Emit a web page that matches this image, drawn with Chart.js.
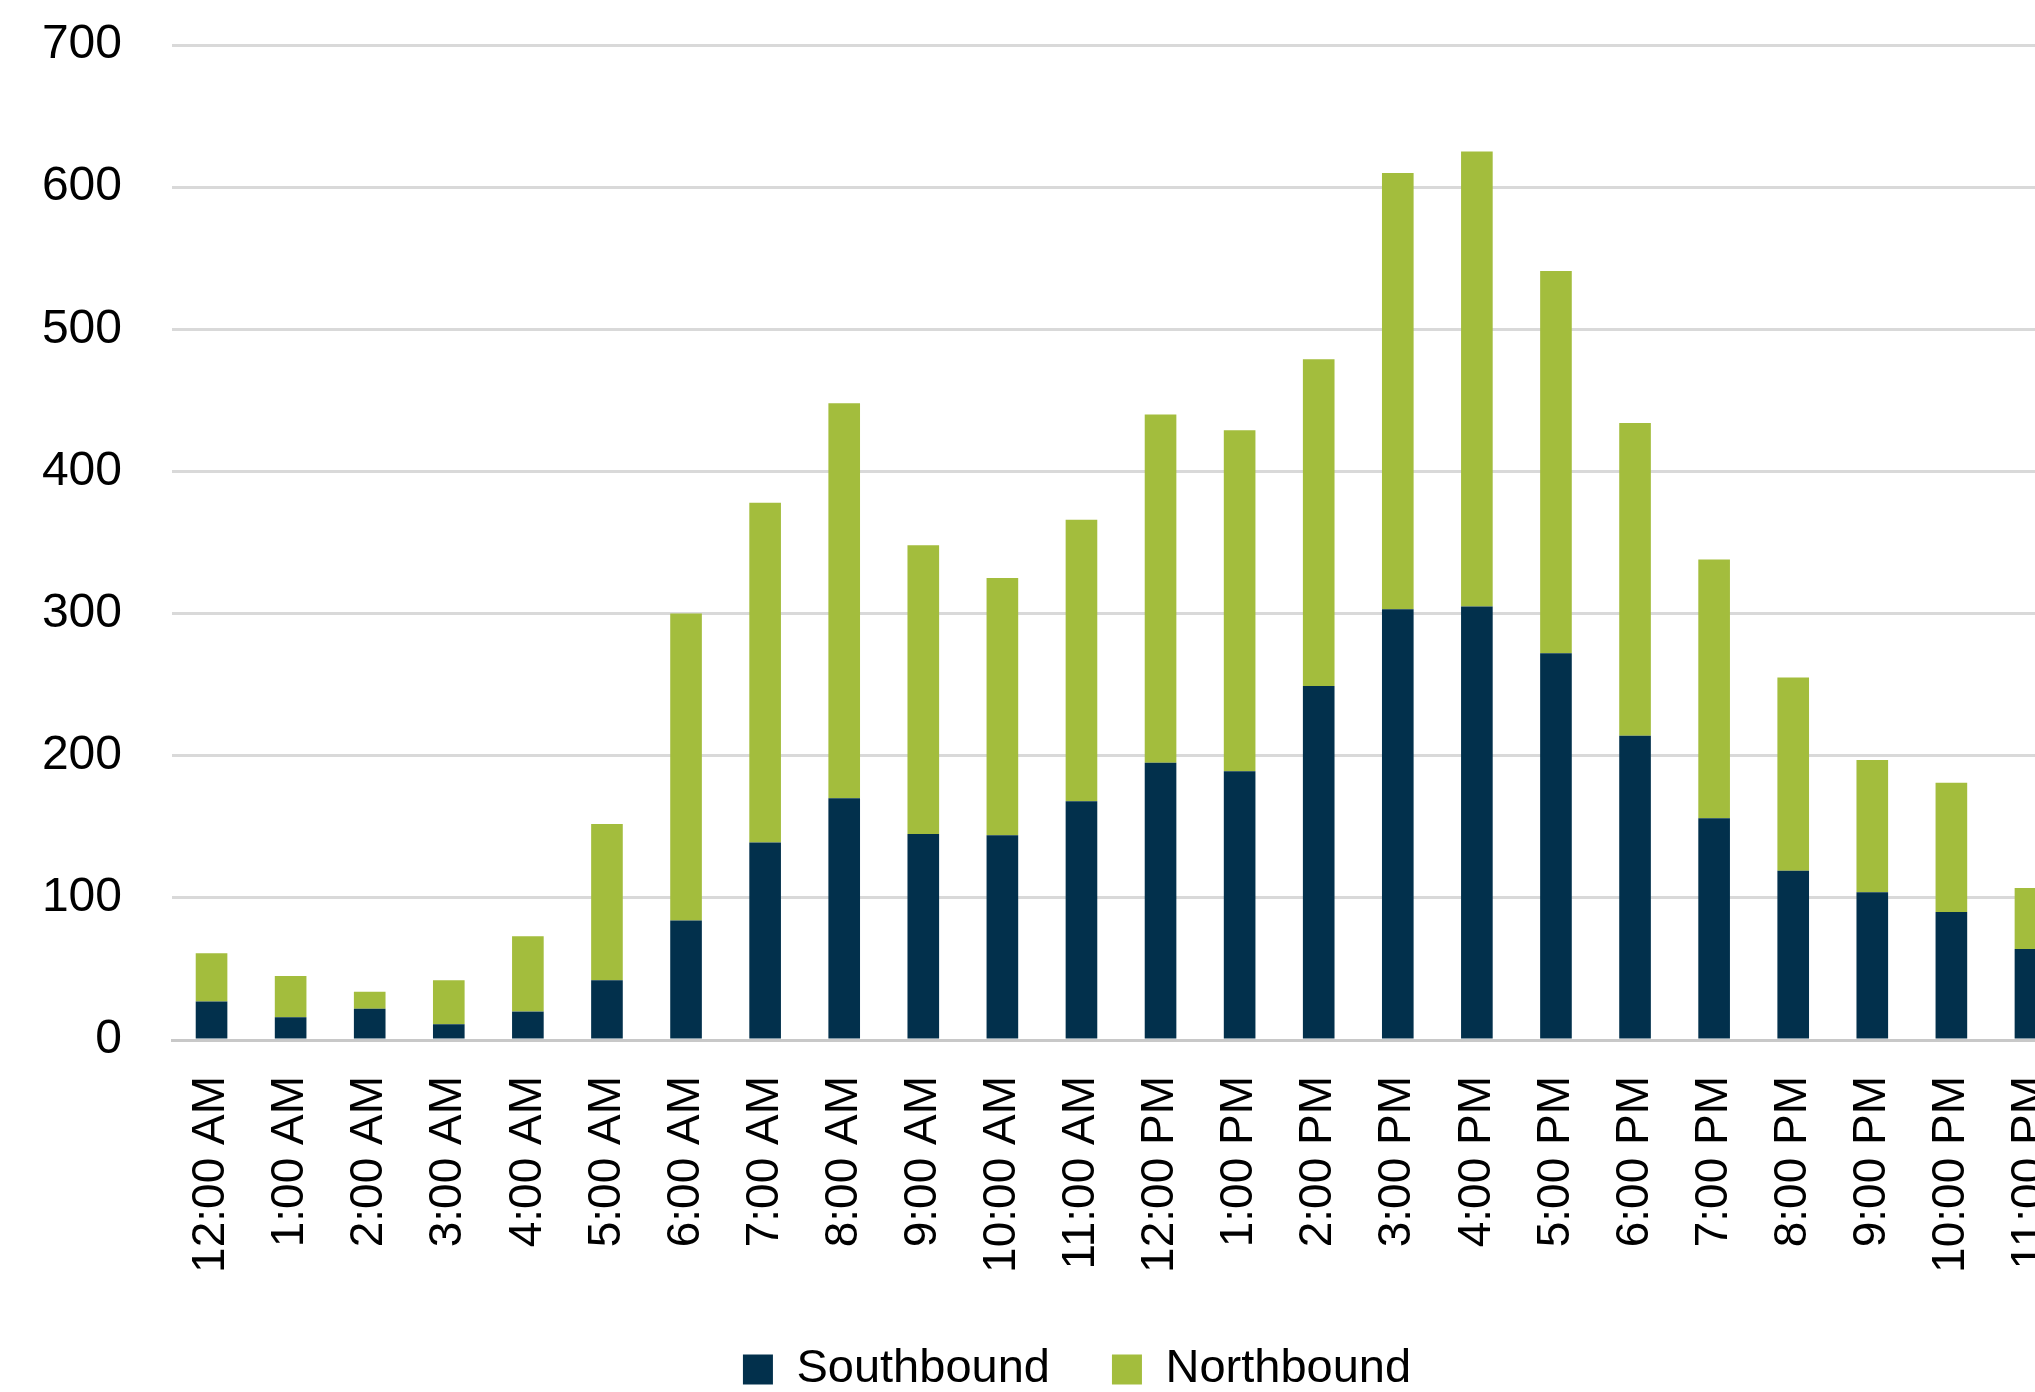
<!DOCTYPE html>
<html>
<head>
<meta charset="utf-8">
<script src="https://cdn.jsdelivr.net/npm/chart.js@4.4.1/dist/chart.umd.min.js"></script>
<style>
  html, body { margin: 0; padding: 0; background: #fff; overflow: hidden; }
  #wrap { width: 2100px; height: 1392px; }
</style>
</head>
<body>
<div id="wrap"><canvas id="trafficChart" width="2100" height="1392"></canvas></div>
<script>
// hourly counts by direction
const hours = [
  '12:00 AM', '1:00 AM', '2:00 AM', '3:00 AM', '4:00 AM', '5:00 AM',
  '6:00 AM', '7:00 AM', '8:00 AM', '9:00 AM', '10:00 AM', '11:00 AM',
  '12:00 PM', '1:00 PM', '2:00 PM', '3:00 PM', '4:00 PM', '5:00 PM',
  '6:00 PM', '7:00 PM', '8:00 PM', '9:00 PM', '10:00 PM', '11:00 PM'
];
const southbound = [27, 16, 22, 11, 20, 42, 84, 139, 170, 145, 144, 168,
                    195, 189, 249, 303, 305, 272, 214, 156, 119, 104, 90, 64];
const northbound = [34, 29, 12, 31, 53, 110, 216, 239, 278, 203, 181, 198,
                    245, 240, 230, 307, 320, 269, 220, 182, 136, 93, 91, 43];
const yMax = 700;
const yStep = 100;

const FONT = '"Liberation Sans", Arial, sans-serif';
const AXIS_Y = 1040;        // pixel row of the zero line
const LEGEND_SHIFT = { x: 42, y: 11 };

// nudges the legend so it sits centred under the wider frame
const legendShift = {
  id: 'legendShift',
  afterLayout(chart) {
    const lg = chart.legend;
    if (!lg) return;
    lg.left += LEGEND_SHIFT.x;
    lg.right += LEGEND_SHIFT.x;
    lg.top += LEGEND_SHIFT.y;
    lg.bottom += LEGEND_SHIFT.y;
  }
};

const ctx = document.getElementById('trafficChart').getContext('2d');
new Chart(ctx, {
  type: 'bar',
  data: {
    labels: hours,
    datasets: [
      {
        label: 'Southbound',
        data: southbound,
        backgroundColor: '#02304C'
      },
      {
        label: 'Northbound',
        data: northbound,
        backgroundColor: '#A3BD3D'
      }
    ]
  },
  plugins: [legendShift],
  options: {
    responsive: false,
    animation: false,
    devicePixelRatio: 1,
    layout: {
      padding: { left: 0, right: 30, top: 45, bottom: 0 }
    },
    datasets: {
      bar: { categoryPercentage: 1.0, barPercentage: 0.4 }
    },
    plugins: {
      tooltip: { enabled: false },
      legend: {
        position: 'bottom',
        labels: {
          boxWidth: 30,
          boxHeight: 30,
          padding: 62,
          color: '#000',
          font: { family: FONT, size: 47 }
        }
      }
    },
    scales: {
      x: {
        stacked: true,
        grid: { display: false, drawTicks: false },
        border: { display: true, color: '#c8c8c8', width: 3 },
        ticks: {
          minRotation: 90,
          maxRotation: 90,
          padding: 36,
          color: '#000',
          font: { family: FONT, size: 46 }
        },
        afterFit(scale) {
          const lg = scale.chart.legend;
          const lh = lg && lg.height ? lg.height : 119;
          scale.height = 1392 - AXIS_Y - lh;
          scale.paddingLeft = 0;
          scale.paddingRight = 0;
        }
      },
      y: {
        stacked: true,
        min: 0,
        max: yMax,
        grid: {
          drawTicks: false,
          color: '#d9d9d9',
          lineWidth: 3
        },
        border: { display: false },
        ticks: {
          stepSize: yStep,
          padding: 50,
          color: '#000',
          font: { family: FONT, size: 48 }
        },
        afterFit(scale) {
          scale.width = 172;
          scale.paddingTop = 0;
          scale.paddingBottom = 0;
        }
      }
    }
  }
});
</script>
</body>
</html>
